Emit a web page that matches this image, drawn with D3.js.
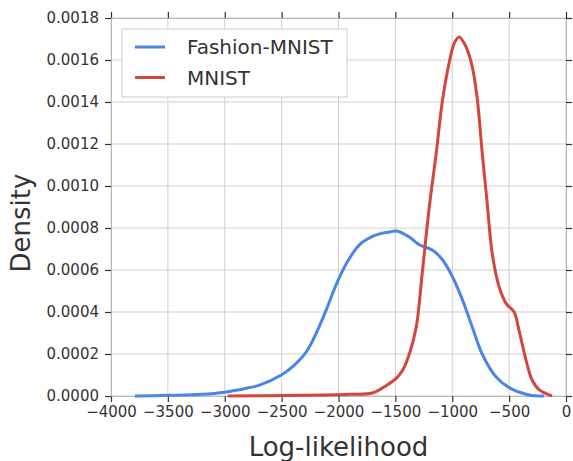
<!DOCTYPE html>
<html>
<head>
<meta charset="utf-8">
<script src="https://cdn.jsdelivr.net/npm/d3@7"></script>
<style>
  body { margin: 0; background: #fff; }
  text { font-family: "DejaVu Sans", sans-serif; }
</style>
</head>
<body>
<div id="chart"></div>
<script>
// series names and colours
const seriesNames = ["Fashion-MNIST", "MNIST"];
const seriesColors = ["#4a86e8", "#d4453a"];

// Fashion-MNIST density curve (log-likelihood, density)
const fashionX = [-3790, -3500, -3200, -3000, -2800, -2693, -2503, -2403, -2283, -2195, -2108, -2020, -1932, -1816, -1702, -1640, -1560, -1491, -1377, -1289, -1175, -1088, -1000, -912, -825, -737, -614, -500, -325, -193];
const fashionY = [0, 0.000003, 0.000008, 0.000018, 0.000038, 0.000052, 0.0001, 0.00014, 0.00021, 0.0003, 0.00041, 0.00053, 0.00063, 0.00072, 0.00076, 0.000772, 0.00078, 0.000786, 0.000757, 0.00072, 0.000695, 0.00065, 0.00057, 0.00046, 0.00033, 0.0002, 0.00009, 0.00004, 0.000005, 0];

// MNIST density curve
const mnistX = [-2974, -2342, -1904, -1702, -1579, -1491, -1439, -1377, -1316, -1263, -1202, -1140, -1088, -1026, -982, -939, -877, -825, -781, -737, -693, -649, -588, -526, -456, -412, -351, -298, -237, -123];
const mnistY = [0, 0.000003, 0.000008, 0.000014, 0.00005, 0.000085, 0.00012, 0.0002, 0.00033, 0.00059, 0.0009, 0.00116, 0.0014, 0.00159, 0.00168, 0.00171, 0.00166, 0.00157, 0.00142, 0.00116, 0.00092, 0.00068, 0.00052, 0.00044, 0.0004, 0.00031, 0.00017, 0.000076, 0.00003, 0];

const xTicks = [-4000, -3500, -3000, -2500, -2000, -1500, -1000, -500, 0];
const yTicks = [0, 0.0002, 0.0004, 0.0006, 0.0008, 0.0010, 0.0012, 0.0014, 0.0016, 0.0018];

const W = 573, H = 461;
const margin = { top: 18, right: 7, bottom: 65, left: 111 };
const width = W - margin.left - margin.right;
const height = H - margin.top - margin.bottom;

const svg = d3.select("#chart").append("svg")
    .attr("width", W)
    .attr("height", H);

const g = svg.append("g")
    .attr("transform", "translate(" + margin.left + "," + margin.top + ")");

const x = d3.scaleLinear().domain([-4000, 0]).range([0, width]);
const y = d3.scaleLinear().domain([0, 0.0018]).range([height, 0]);

// grid
g.append("g").selectAll("line").data(xTicks).enter().append("line")
    .attr("x1", d => x(d)).attr("x2", d => x(d))
    .attr("y1", 0).attr("y2", height)
    .attr("stroke", "#cfcfcf").attr("stroke-width", 1);
g.append("g").selectAll("line").data(yTicks).enter().append("line")
    .attr("y1", d => y(d)).attr("y2", d => y(d))
    .attr("x1", 0).attr("x2", width)
    .attr("stroke", "#cfcfcf").attr("stroke-width", 1);

// axes (outward ticks on all four sides)
const fmtY = d3.format(".4f");
const fmtX = d => d3.format("d")(d).replace("-", "\u2212");

const styleAxis = sel => {
    sel.select(".domain").attr("stroke", "#b8b8b8");
    sel.selectAll(".tick line").attr("stroke", "#333").attr("stroke-width", 1.2);
    sel.selectAll(".tick text").attr("fill", "#333").style("font-size", "15px")
        .style("font-family", "'DejaVu Sans', sans-serif");
};

g.append("g").attr("transform", "translate(0," + height + ")")
    .call(d3.axisBottom(x).tickValues(xTicks).tickFormat(fmtX).tickSize(6).tickPadding(4).tickSizeOuter(0))
    .call(styleAxis);
g.append("g")
    .call(d3.axisLeft(y).tickValues(yTicks).tickFormat(fmtY).tickSize(6).tickPadding(6).tickSizeOuter(0))
    .call(styleAxis);
g.append("g")
    .call(d3.axisTop(x).tickValues(xTicks).tickFormat("").tickSize(6).tickSizeOuter(0))
    .call(styleAxis);
g.append("g").attr("transform", "translate(" + width + ",0)")
    .call(d3.axisRight(y).tickValues(yTicks).tickFormat("").tickSize(6).tickSizeOuter(0))
    .call(styleAxis);

// curves
const line = d3.line()
    .x(d => x(d[0]))
    .y(d => y(d[1]))
    .curve(d3.curveCatmullRom.alpha(0.5));

const series = [
    fashionX.map((v, i) => [v, fashionY[i]]),
    mnistX.map((v, i) => [v, mnistY[i]])
];

g.selectAll(".curve").data(series).enter().append("path")
    .attr("class", "curve")
    .attr("d", line)
    .attr("fill", "none")
    .attr("stroke", (d, i) => seriesColors[i])
    .attr("stroke-width", 3)
    .attr("stroke-linejoin", "round");

// axis labels
svg.append("text")
    .attr("x", margin.left + width / 2)
    .attr("y", 456)
    .attr("text-anchor", "middle")
    .attr("fill", "#333")
    .style("font-size", "26px")
    .text("Log-likelihood");

svg.append("text")
    .attr("transform", "translate(30," + (margin.top + height / 2 + 16) + ") rotate(-90)")
    .attr("text-anchor", "middle")
    .attr("fill", "#333")
    .style("font-size", "26px")
    .text("Density");

// legend
const legend = svg.append("g").attr("transform", "translate(122,29)");
legend.append("rect")
    .attr("width", 225).attr("height", 68)
    .attr("fill", "#fff").attr("stroke", "#cccccc").attr("stroke-width", 1);

const items = legend.selectAll(".item").data(seriesNames).enter().append("g")
    .attr("transform", (d, i) => "translate(0," + (18 + i * 30.5) + ")");
items.append("line")
    .attr("x1", 13).attr("x2", 43)
    .attr("stroke", (d, i) => seriesColors[i])
    .attr("stroke-width", 3);
items.append("text")
    .attr("x", 65).attr("y", 7)
    .attr("fill", "#333")
    .style("font-size", "20px")
    .text(d => d);
</script>
</body>
</html>
